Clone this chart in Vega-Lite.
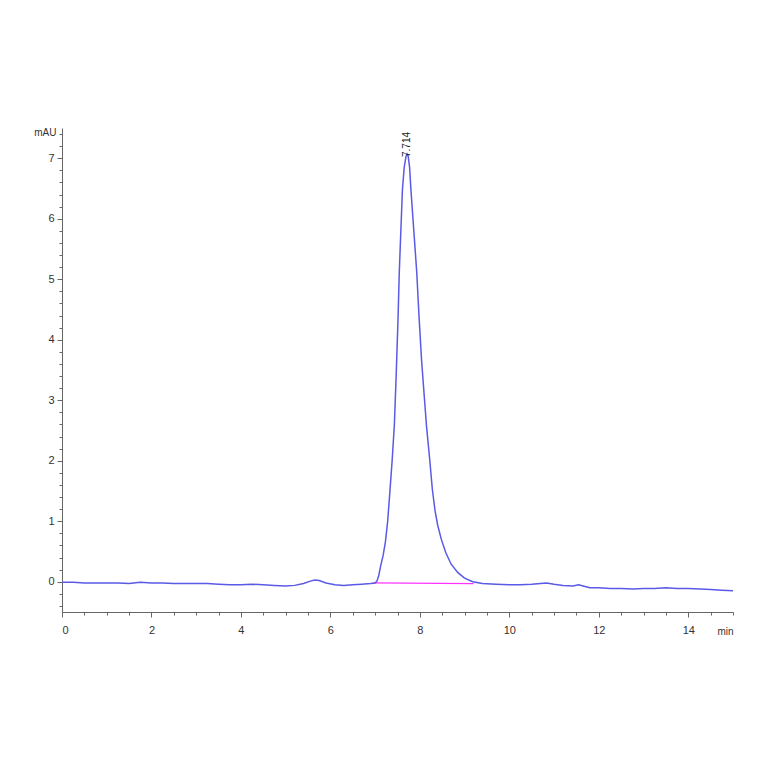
{
  "$schema": "https://vega.github.io/schema/vega-lite/v6.json",
  "width": 671,
  "height": 484,
  "autosize": "none",
  "padding": {"left": 62, "top": 128, "right": 31, "bottom": 152},
  "background": "white",
  "config": {
    "view": {"stroke": null},
    "font": "Liberation Sans",
    "axis": {
      "domainColor": "#666666",
      "tickColor": "#666666",
      "labelColor": "#333333",
      "labelFontSize": 11,
      "grid": false,
      "titleFontWeight": "normal",
      "titleColor": "#333333",
      "titleFontSize": 10
    }
  },
  "datasets": {
    "trace": [
      {"t": 0, "mAU": -0.01}, {"t": 0.25, "mAU": -0.01}, {"t": 0.5, "mAU": -0.02},
      {"t": 0.75, "mAU": -0.02}, {"t": 1.0, "mAU": -0.02}, {"t": 1.25, "mAU": -0.02},
      {"t": 1.5, "mAU": -0.03}, {"t": 1.75, "mAU": -0.01}, {"t": 2.0, "mAU": -0.02},
      {"t": 2.25, "mAU": -0.02}, {"t": 2.5, "mAU": -0.03}, {"t": 2.75, "mAU": -0.03},
      {"t": 3.0, "mAU": -0.03}, {"t": 3.25, "mAU": -0.03}, {"t": 3.5, "mAU": -0.04},
      {"t": 3.75, "mAU": -0.05}, {"t": 4.0, "mAU": -0.05}, {"t": 4.25, "mAU": -0.04},
      {"t": 4.5, "mAU": -0.05}, {"t": 4.75, "mAU": -0.06}, {"t": 5.0, "mAU": -0.07},
      {"t": 5.2, "mAU": -0.06}, {"t": 5.4, "mAU": -0.03}, {"t": 5.55, "mAU": 0.01},
      {"t": 5.65, "mAU": 0.03}, {"t": 5.75, "mAU": 0.02}, {"t": 5.9, "mAU": -0.02},
      {"t": 6.1, "mAU": -0.05}, {"t": 6.3, "mAU": -0.06}, {"t": 6.5, "mAU": -0.05},
      {"t": 6.7, "mAU": -0.04}, {"t": 6.9, "mAU": -0.03}, {"t": 7.0, "mAU": -0.02},
      {"t": 7.04, "mAU": 0.01}, {"t": 7.08, "mAU": 0.1}, {"t": 7.12, "mAU": 0.25},
      {"t": 7.18, "mAU": 0.44}, {"t": 7.23, "mAU": 0.66}, {"t": 7.28, "mAU": 1.0},
      {"t": 7.33, "mAU": 1.49}, {"t": 7.38, "mAU": 2.0}, {"t": 7.43, "mAU": 2.6},
      {"t": 7.47, "mAU": 3.4}, {"t": 7.51, "mAU": 4.3}, {"t": 7.54, "mAU": 5.12},
      {"t": 7.58, "mAU": 5.9}, {"t": 7.61, "mAU": 6.48}, {"t": 7.65, "mAU": 6.85},
      {"t": 7.69, "mAU": 7.03}, {"t": 7.714, "mAU": 7.07}, {"t": 7.74, "mAU": 7.03},
      {"t": 7.77, "mAU": 6.85}, {"t": 7.8, "mAU": 6.48}, {"t": 7.86, "mAU": 5.85},
      {"t": 7.93, "mAU": 5.12}, {"t": 7.98, "mAU": 4.4}, {"t": 8.04, "mAU": 3.64},
      {"t": 8.1, "mAU": 3.05}, {"t": 8.15, "mAU": 2.56}, {"t": 8.22, "mAU": 2.02},
      {"t": 8.28, "mAU": 1.52}, {"t": 8.34, "mAU": 1.17}, {"t": 8.4, "mAU": 0.93},
      {"t": 8.48, "mAU": 0.7}, {"t": 8.58, "mAU": 0.48}, {"t": 8.7, "mAU": 0.29},
      {"t": 8.85, "mAU": 0.15}, {"t": 9.0, "mAU": 0.06}, {"t": 9.18, "mAU": 0.0},
      {"t": 9.4, "mAU": -0.03}, {"t": 9.7, "mAU": -0.04}, {"t": 10.0, "mAU": -0.05},
      {"t": 10.25, "mAU": -0.05}, {"t": 10.5, "mAU": -0.04}, {"t": 10.83, "mAU": -0.02},
      {"t": 11.0, "mAU": -0.04}, {"t": 11.2, "mAU": -0.06}, {"t": 11.42, "mAU": -0.07},
      {"t": 11.55, "mAU": -0.05}, {"t": 11.65, "mAU": -0.07}, {"t": 11.8, "mAU": -0.1},
      {"t": 12.0, "mAU": -0.1}, {"t": 12.25, "mAU": -0.11}, {"t": 12.5, "mAU": -0.11},
      {"t": 12.77, "mAU": -0.12}, {"t": 13.0, "mAU": -0.11}, {"t": 13.25, "mAU": -0.11},
      {"t": 13.5, "mAU": -0.1}, {"t": 13.75, "mAU": -0.11}, {"t": 14.0, "mAU": -0.11},
      {"t": 14.26, "mAU": -0.12}, {"t": 14.5, "mAU": -0.13}, {"t": 14.75, "mAU": -0.14},
      {"t": 15.0, "mAU": -0.15}
    ],
    "baseline": [
      {"t": 6.95, "mAU": -0.02},
      {"t": 9.2, "mAU": -0.03}
    ],
    "peaks": [
      {"t": 7.714, "mAU": 7.07, "label": "7.714"}
    ]
  },
  "layer": [
    {
      "data": {"name": "baseline"},
      "mark": {"type": "line", "color": "#ff33ff", "strokeWidth": 1.3},
      "encoding": {
        "x": {
          "field": "t", "type": "quantitative",
          "scale": {"domain": [0, 15], "nice": false, "zero": false},
          "axis": {
            "orient": "bottom", "labels": false, "domain": false, "title": null,
            "tickSize": 3,
            "values": [0.5, 1, 1.5, 2.5, 3, 3.5, 4.5, 5, 5.5, 6.5, 7, 7.5, 8.5, 9, 9.5, 10.5, 11, 11.5, 12.5, 13, 13.5, 14.5, 15]
          }
        },
        "y": {
          "field": "mAU", "type": "quantitative",
          "scale": {"domain": [-0.5, 7.5], "nice": false, "zero": false},
          "axis": {
            "orient": "left", "labels": false, "domain": false, "title": null,
            "tickSize": 3,
            "values": [-0.4, -0.2, 0.2, 0.4, 0.6, 0.8, 1.2, 1.4, 1.6, 1.8, 2.2, 2.4, 2.6, 2.8, 3.2, 3.4, 3.6, 3.8, 4.2, 4.4, 4.6, 4.8, 5.2, 5.4, 5.6, 5.8, 6.2, 6.4, 6.6, 6.8, 7.2, 7.4]
          }
        }
      }
    },
    {
      "data": {"name": "trace"},
      "mark": {"type": "line", "color": "#5a5ae6", "strokeWidth": 1.5},
      "encoding": {
        "x": {
          "field": "t", "type": "quantitative",
          "axis": {
            "orient": "bottom", "values": [0, 2, 4, 6, 8, 10, 12, 14],
            "tickSize": 5, "labelPadding": 7,
            "title": "min", "titleX": 663, "titleY": 14, "titleAlign": "center",
            "titleFontSize": 10
          }
        },
        "y": {
          "field": "mAU", "type": "quantitative",
          "axis": {
            "orient": "left", "values": [0, 1, 2, 3, 4, 5, 6, 7],
            "tickSize": 5, "labelPadding": 3,
            "title": "mAU", "titleAngle": 0, "titleAlign": "right",
            "titleX": -6, "titleY": 9, "titleFontSize": 10
          }
        }
      }
    },
    {
      "data": {"name": "peaks"},
      "mark": {
        "type": "text", "angle": 270, "align": "left", "baseline": "middle",
        "dx": -3, "fontSize": 10, "color": "#222222"
      },
      "encoding": {
        "x": {"field": "t", "type": "quantitative", "axis": null},
        "y": {"field": "mAU", "type": "quantitative", "axis": null},
        "text": {"field": "label"}
      }
    }
  ],
  "resolve": {"axis": {"x": "independent", "y": "independent"}}
}
